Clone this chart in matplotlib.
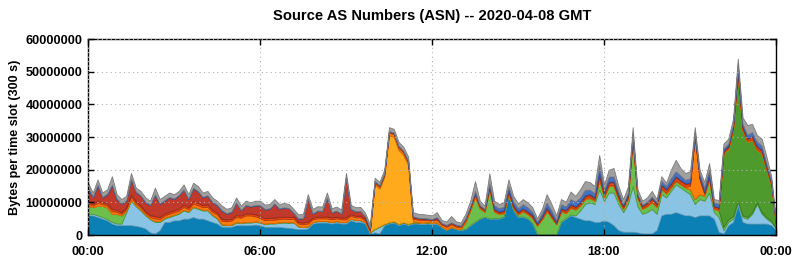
import numpy as np
import matplotlib
matplotlib.use("Agg")
import matplotlib.pyplot as plt

# 10-minute samples, values in MB per 300 s slot
hours = np.arange(145) / 6.0

dark_blue = [
    6, 6, 5.5, 5, 4.5, 3.5, 3, 3, 3, 3, 2.8, 2.5, 2,
    .8, .5, 1.5, 4, 4, 4.5, 4.5, 5, 5, 5.5, 5, 5,
    4.5, 4, 3.5, 2.5, 2.5, 2.5, 3, 3, 3, 3, 3.2, 3,
    2.5, 2.5, 2.5, 2.5, 2.3, 2.2, 2, 1.8, 1.8, 2, 3.5, 3.8,
    3.8, 3.8, 3.5, 3.8, 3.5, 3.5, 4.5, 4, 4, 3.5, .5, .8,
    .5, 3, 3.5, 3.8, 3, 3.5, 3, 3.5, 3.5, 3.3, 3.5, 3.3,
    3.5, 2.3, 1.5, 2.3, 1.8, 1.5, 1.8, 3, 4, 5, 5.5, 5,
    5, 5, 5.5, 12, 7.5, 5.5, 5.5, 5, 3.5, .3, .2, .2,
    .2, .2, 4, 5, 6, 5.5, 5, 4.5, 4.5, 4, 4, 4.5,
    4, 3, 1.5, 1, 1, 1, .8, .5, .5, .5, 1.5, 6,
    6.5, 6.5, 7, 6.5, 6, 6, 5.5, 6, 6, 6, 5, 1,
    .5, 3, 4, 9, 4, 3.5, 3.5, 3.5, 3.5, 3.5, 3, 1.5,
]
light_blue = [
    .5, .5, .5, .5, .4, .5, .5, .5, 4, 7.5, 6, 5, 4,
    4, 3.5, 2.5, 1, 1.5, 1.5, 2, 2.5, 2, 3, 3, 2.5,
    3, 2, 1.5, .5, .5, .5, .8, .6, .8, .8, .8, .8,
    .8, 1, 1, 1.2, 1.5, 1.5, 1.8, .8, .6, .6, .4, .4,
    .4, .4, .4, .4, .4, .4, .5, .5, .5, .3, .3, 1,
    2, .3, .3, .3, .3, .3, .3, .3, .3, .3, .3, .3,
    .3, .2, .1, .1, .1, .1, .1, .1, .1, .1, .1, .1,
    .2, .2, .2, .2, .2, .2, .2, .2, .2, .1, .1, .1,
    .1, .1, .2, .2, .3, .5, 2.5, 5, 5.5, 5.5, 10, 6,
    9, 10, 8, 6, 8.5, 14, 8, 6, 6.5, 7.5, 5, 6.5,
    5, 7, 8.5, 8, 7.5, 6.5, 4, 5, 4.5, 7, 2, 4.5,
    1, 1, 1, 1, 1.5, 1.5, 3, 6, 3, 1.5, 1, .5,
]
light_green = [
    2.5, 2, 3, 3.5, 3.5, 2.5, 3, 2.5, .5, .4, .3, .3, .3,
    .3, .3, .3, .3, .3, .3, .3, .3, .3, .3, .3, .3,
    .3, .3, .3, .3, .2, .2, .2, .2, .2, .2, .2, .2,
    .2, .2, .2, .2, .2, .2, .2, .1, .1, .1, .1, .1,
    .1, .1, .1, .1, .1, .1, .1, .1, .1, .1, .1, .1,
    .1, .1, .1, .1, .1, .1, .1, .1, .1, .1, .1, .1,
    .1, .1, .1, .1, .1, .2, 2, 4.5, 7.5, 3, 1.5, 9,
    2, 1.2, 1, .5, .5, .6, 1.5, 1.2, 1.5, 2.5, 4.5, 7,
    5, 3, 3, 1.5, 2, 1.8, 1.5, 1.5, 1.3, 1, 3, 1.2,
    2, 2, 1.5, 1, 1.5, 14, 2.5, 1.5, 1.8, 2, 2, 1.5,
    1.2, 1, 1, 1, 1, 1.5, 1.5, 1.5, 1.5, 4, 1, 2,
    1, .8, .8, .5, .5, .5, .5, .5, .5, .5, .3, .1,
]
dark_green = [0] * 133 + [22.5, 21.5, 26.5, 38.5, 26, 23, 22, 16, 18, 14.5, 11, 1]
gold = [0] * 60 + [13.6, 11.6, 14.4, 26.6, 25.9, 22.6, 20.6, 18, .3, .1, .1, .1, .1] + [0] * 72
orange = [
    .7, .5, .8, .5, .6, .8, .6, .5, .5, .8, .6, .6, .5,
    .5, .8, .6, .6, .7, .7, .7, .8, .6, .8, .8, .7,
    .8, .8, 1, 1, 1, 1.2, 1.5, 1.5, 2, 2, 1.5, 1.2,
    1, 1, 1, 1, 1, 1, 1, .8, .8, .8, .8, .8,
    .8, .8, .8, .8, .8, .8, .8, .8, .8, .6, .4, .5,
    .6, .6, .8, .8, .8, .8, .8, .8, .7, .8, .6, .6,
    .8, .6, .8, .8, .6, .6, .6, .5, .7, .4, .3, .4,
    .3, .3, .3, .3, .3, .3, .3, .3, .3, .2, .3, .4,
    .3, .2, .3, .3, .3, .3, .3, .3, .3, .3, .5, .3,
    .3, .3, .3, .3, .3, .5, .3, .3, .3, .3, .3, .3,
    .3, .3, .3, .3, .3, 1, 19, 4.5, .5, .5, .3, .3,
    .3, .3, .3, .3, .3, .3, .3, .3, .3, .3, .2, .1,
]
red_orange = [
    .7, .5, .7, .5, .6, .7, .6, .5, .5, .7, .6, .6, .5,
    .5, .7, .6, .6, .6, .6, .6, .7, .6, .7, .7, .6,
    .7, .6, .6, .6, .5, .6, .6, .6, .6, .6, .6, .6,
    .6, .6, .6, .6, .6, .6, .6, .5, .5, .6, .5, .5,
    .5, .6, .5, .5, .5, .6, .5, .5, .5, .4, .3, .3,
    .3, .3, .3, .3, .3, .3, .3, .4, .4, .4, .3, .3,
    .4, .3, .4, .4, .4, .3, .4, .4, .5, .3, .3, .4,
    .4, .3, .4, .5, .4, .4, .5, .4, .4, .3, .4, .6,
    .5, .3, .5, .5, .6, .5, .5, .6, .6, .5, 1, .6,
    .8, .8, .7, .5, .6, .8, .5, .5, .6, .7, .6, .8,
    .8, .8, .9, .8, .8, .8, .5, .5, .5, .6, .5, .5,
    .4, .5, .5, .8, .6, .6, .8, .8, .6, .6, .5, .1,
]
brick_red = [
    3.5, 2, 4.5, 1.5, 2.8, 7, 3.2, 2.5, 2, 4.6, 2.8, 3, 2.7,
    3, 6.5, 4, 4, 4.4, 3.4, 4, 4.5, 2.5, 3.9, 3.5, 2.4,
    2.7, 2.3, 2.2, 2.5, 1.8, 2, 3.7, 1.6, 2.4, 2.1, 2.7, 3.2,
    2.7, 2.7, 4.2, 2.5, 2.7, 2.7, 1.2, 1, 1.3, 7, 1.3, 1.8,
    1.7, 5.8, 1.6, 1.8, 1.2, 12.2, 1.5, 1.3, 1.4, .8, .4, .1,
    .1, .1, .1, .1, .1, .1, .1, .2, .1, .1, .1, .1,
    .2, .1, .1, .1, .1, .1, .1, .1, .2, .1, .1, .2,
    .2, .2, .2, .2, .2, .2, .2, .2, .2, .1, .2, .2,
    .2, .1, .2, .2, .3, .2, .2, .3, .3, .3, .5, .3,
    .3, .3, .3, .2, .3, .3, .2, .2, .2, .3, .3, .3,
    .3, .3, .3, .3, .3, .3, .3, .2, .2, .3, .2, .2,
    .2, .2, .2, .3, .2, .2, .2, .2, .2, .2, .2, .1,
]
blue = [
    .6, .3, .5, .2, .3, .5, .3, .2, .2, .3, .2, .2, .2,
    .2, .2, .2, .2, .2, .2, .2, .2, .2, .3, .2, .2,
    .2, .2, .2, .2, .2, .2, .2, .2, .2, .2, .2, .2,
    .2, .2, .2, .2, .2, .1, .1, .1, .1, .1, .1, .1,
    .1, .1, .1, .1, .1, .1, .1, .1, .1, .1, .1, .1,
    .1, .1, .1, .1, .1, .1, .2, .2, .1, .1, .1, .1,
    .2, .1, .1, .1, .1, .1, .2, .3, .5, .3, .2, .8,
    1, 1, 1, 1.3, 1.2, 1, 1.2, 1.2, 1, .6, 1, 1.5,
    1.2, .8, 1.2, 1, 1.5, 1.4, 1.5, 1.6, 1.4, 1.2, 2.5, 1,
    1.5, 1.5, 1, .5, .8, .5, .3, .3, .3, .5, .4, 1.2,
    1, 1.5, 1.5, 1.3, 1, 1.2, .7, 1, 1.5, 1.6, 1, 1,
    .6, .7, .7, 1.6, .9, 1.1, 1.2, 1.3, 1.2, .8, .6, .1,
]
gray = [
    1.5, 1.2, 1.5, 1.3, 1.3, 2.5, 1.3, 1.3, 1.3, 1.7, 1.2, 1.3, 1.3,
    1.2, 2, 1.3, 1.3, 1.3, 1.3, 1.2, 1.5, 1.3, 1.5, 1.5, 1.3,
    1.3, 1.3, 1.2, 1.4, 1.3, 1.3, 1.5, 1.3, 1.3, 1.1, 1.3, 1.3,
    1.3, 1.3, 1.3, 1.3, 1.3, 1.2, 1.1, 1.2, 1.3, 1.3, 1.3, 1.3,
    1.3, 1.4, 1.2, 1.2, 1.2, 1.3, 1.2, 1.2, 1.2, 1, 1.1, 1,
    1, 1.1, 1.2, 1.1, 1.2, 1.2, 1.2, 1.2, 1.2, 1.2, 1.1, 1.1,
    1.5, .9, 1, 1.9, 1, .9, 1.3, 1.6, 3, 1.3, 1, 3,
    1.4, 1.3, 1.4, 2, 1.7, 1.5, 1.6, 1.5, 1.4, 1, 1.3, 2.5,
    2, 1.3, 1.6, 1.5, 2.3, 1.8, 2.5, 2.7, 2.3, 2.2, 3, 1.6,
    2.1, 2.6, 1.7, 1.5, 1.8, 1.9, 1.4, 1.2, 1.3, 1.7, .9, 1.4,
    .9, 2.6, 3.5, 2.3, 2.1, 2.2, 1.5, 1.3, 1.5, 2, 1, 1.2,
    1.5, 1.5, 1.5, 2, 2, 3, 2.5, 2, 2.2, 2.1, 1.2, .5,
]

series = [dark_blue, light_blue, light_green, dark_green, gold,
          orange, red_orange, brick_red, blue, gray]
fills = ["#0b80b4", "#8ac4e4", "#6dbf4b", "#4e9a2c", "#ffaa1c",
         "#ff7f0e", "#ee4a10", "#c0392b", "#4472c4", "#a0a0a0"]
edges = ["#06607f", "#5f9cbf", "#4f9a35", "#3a7620", "#d08a10",
         "#d06208", "#b8380a", "#90281e", "#30559a", "#7a7a7a"]

y_ticks = [0, 10e6, 20e6, 30e6, 40e6, 50e6, 60e6]
y_labels = ["0", "10000000", "20000000", "30000000", "40000000", "50000000", "60000000"]
x_ticks = [0, 6, 12, 18, 24]
x_labels = ["00:00", "06:00", "12:00", "18:00", "00:00"]

plt.rcParams["font.family"] = ["Liberation Sans", "DejaVu Sans"]
plt.rcParams["font.weight"] = "bold"

fig = plt.figure(figsize=(7.95, 2.6), dpi=100)
ax = fig.add_axes([88 / 795, 25 / 260, 688 / 795, 196 / 260])

polys = ax.stackplot(hours, *[np.asarray(s) * 1e6 for s in series], colors=fills)
for p, e in zip(polys, edges):
    p.set_edgecolor(e)
    p.set_linewidth(0.6)

ax.set_xlim(0, 24)
ax.set_ylim(0, 60e6)
ax.set_xticks(x_ticks)
ax.set_xticklabels(x_labels)
ax.set_yticks(y_ticks)
ax.set_yticklabels(y_labels)
ax.tick_params(direction="in", length=4, width=1, top=True, right=True,
               labelsize=9.1, colors="black")
ax.tick_params(axis="x", pad=8)
ax.tick_params(axis="y", pad=4)
ax.grid(True, color="#b0b0b0", linestyle=(0, (1, 3)), linewidth=0.8)
ax.set_axisbelow(False)
for s in ax.spines.values():
    s.set_linewidth(1)

ax.set_ylabel("Bytes per time slot (300 s)", fontsize=9, fontweight="bold")
ax.yaxis.set_label_coords(-0.098, 0.5)
ax.set_title("Source AS Numbers (ASN) -- 2020-04-08 GMT", fontsize=10.6,
             fontweight="bold", pad=14)

fig.savefig("out.png", dpi=100)
